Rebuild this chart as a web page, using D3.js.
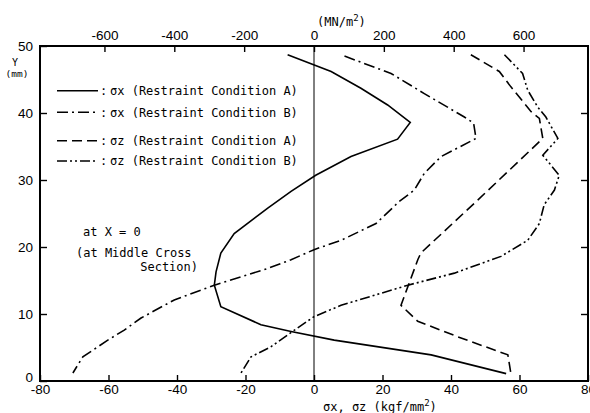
<!DOCTYPE html>
<html>
<head>
<meta charset="utf-8">
<script src="https://cdn.jsdelivr.net/npm/d3@7"></script>
<style>
  body { margin: 0; background: #fff; }
  .tick text { font-family: "Liberation Sans", Arial, sans-serif; font-size: 13.5px; fill: #000; }
  .mono { font-family: "DejaVu Sans Mono", monospace; font-size: 12px; fill: #000; }
</style>
</head>
<body>
<div id="chart"></div>
<script>
// [Y (mm), stress (kgf/mm2)]
const sigmaXA = [[48.7,-7.7],[46.2,5.0],[43.7,13.7],[41.2,21.5],[38.6,28.1],[36.1,24.4],[33.5,10.8],[30.7,0.5],
  [28.3,-6.7],[25.8,-13.5],[22.0,-23.3],[19.1,-27.2],[16.3,-28.6],[14.3,-29.1],[11.1,-27.2],[8.4,-15.5],
  [7.4,-6.7],[6.1,5.9],[3.9,34.2],[1.1,56.1]]
const sigmaXB = [[48.5,8.9],[45.9,22.5],[42.9,32.2],[39.4,43.9],[38.5,46.6],[36.2,47.3],[33.5,37.1],[31.0,32.2],
  [28.5,29.3],[26.8,24.9],[23.5,18.1],[21.0,7.9],[19.6,0],[18.1,-6.7],[16.8,-13.5],[14.3,-29.1],[12.1,-40.8],
  [9.4,-50.5],[7.6,-55.4],[6.1,-60.2],[3.6,-67.5],[1.2,-70.4]]
const sigmaZA = [[48.7,45.8],[46.2,54.1],[43.9,57.5],[40.2,63.4],[39.2,65.8],[36.2,66.8],[27.0,47.8],[19.1,31.2],
  [18.1,30.3],[11.3,25.4],[8.9,30.3],[6.6,42.0],[3.9,56.6],[1.1,57.5]]
const sigmaZB = [[48.7,55.6],[45.9,60.9],[43.4,62.4],[40.9,65.3],[39.4,67.7],[36.2,71.2],[33.7,66.8],[30.7,71.6],
  [28.5,70.2],[26.3,67.2],[23.5,65.8],[21.0,62.4],[18.6,54.6],[16.1,41.0],[14.3,27.4],[11.3,7.9],[9.6,0],
  [7.6,-5.7],[5.1,-12.6],[3.6,-18.4],[1.2,-21.3]]

const bottomTicks = [-80, -60, -40, -20, 0, 20, 40, 60, 80]
const topTicks = [-600, -400, -200, 0, 200, 400, 600]
const yTicks = [0, 10, 20, 30, 40, 50]
const legendLabels = ["σx (Restraint Condition A)", "σx (Restraint Condition B)",
  "σz (Restraint Condition A)", "σz (Restraint Condition B)"]
const KGF_TO_MN = 9.80665

var width = 590, height = 413
const margin = {top: 46, right: 2, bottom: 32, left: 40}

var svg = d3.select("#chart").append("svg")
    .attr("width", width)
    .attr("height", height)
    .style("display", "block")

var xScale = d3.scaleLinear().domain([-80, 80]).range([margin.left, width - margin.right])
var xTop = d3.scaleLinear().domain([-80 * KGF_TO_MN, 80 * KGF_TO_MN]).range([margin.left, width - margin.right])
var yScale = d3.scaleLinear().domain([0, 50]).range([height - margin.bottom, margin.top])

var x0 = xScale(-80), x1 = xScale(80), y0 = yScale(0), y1 = yScale(50)

// axes (ticks pointing in)
svg.append("g")
    .attr("transform", "translate(0," + y0 + ")")
    .call(d3.axisBottom(xScale).tickValues(bottomTicks).tickSize(-6).tickPadding(3).tickFormat(d3.format("d")))
svg.append("g")
    .attr("transform", "translate(0," + y1 + ")")
    .call(d3.axisTop(xTop).tickValues(topTicks).tickSize(-6).tickPadding(6).tickFormat(d3.format("d")))
var leftAxis = svg.append("g")
    .attr("transform", "translate(" + x0 + ",0)")
    .call(d3.axisLeft(yScale).tickValues(yTicks).tickSize(-7).tickPadding(7))
svg.append("g")
    .attr("transform", "translate(" + x1 + ",0)")
    .call(d3.axisRight(yScale).tickValues([10, 20, 30, 40]).tickSize(-7).tickFormat(""))

svg.selectAll(".domain").remove()
svg.selectAll(".tick line").attr("stroke", "#000").attr("stroke-width", 1.4)
svg.selectAll(".tick text").text(function() { return d3.select(this).text().replace("−", "-") })
// the "0" sits a little above the corner in the original
leftAxis.selectAll(".tick text").filter(function(d) { return d === 0 }).attr("dy", "0.05em")

// frame and zero line
svg.append("rect")
    .attr("x", x0).attr("y", y1)
    .attr("width", x1 - x0).attr("height", y0 - y1)
    .attr("fill", "none").attr("stroke", "#000").attr("stroke-width", 2)
svg.append("line")
    .attr("x1", xScale(0)).attr("x2", xScale(0))
    .attr("y1", y1).attr("y2", y0)
    .attr("stroke", "#000").attr("stroke-width", 1)

// curves
const series = [
    {data: sigmaXA, dash: null},
    {data: sigmaXB, dash: "11,4,2,4"},
    {data: sigmaZA, dash: "10,5"},
    {data: sigmaZB, dash: "10,3,2,3,2,3"}
]
var line = d3.line()
    .x(function(d) { return xScale(d[1]) })
    .y(function(d) { return yScale(d[0]) })

svg.selectAll("path.curve")
    .data(series)
    .enter()
    .append("path")
    .attr("class", "curve")
    .attr("d", function(s) { return line(s.data) })
    .attr("fill", "none")
    .attr("stroke", "#000")
    .attr("stroke-width", 1.6)
    .attr("stroke-dasharray", function(s) { return s.dash })

// legend
const legendY = [90.7, 112.3, 140.7, 161]
series.forEach(function(s, i) {
    svg.append("line")
        .attr("x1", 57).attr("x2", 98)
        .attr("y1", legendY[i]).attr("y2", legendY[i])
        .attr("stroke", "#000").attr("stroke-width", 1.6)
        .attr("stroke-dasharray", s.dash)
    svg.append("text").attr("class", "mono")
        .attr("x", 100).attr("y", legendY[i]).attr("dy", "0.35em")
        .text(":")
    svg.append("text").attr("class", "mono")
        .attr("x", 110).attr("y", legendY[i]).attr("dy", "0.35em")
        .text(legendLabels[i])
})

// annotations
svg.append("text").attr("class", "mono").attr("x", 83).attr("y", 236).text("at X = 0")
svg.append("text").attr("class", "mono").attr("x", 76).attr("y", 257).text("(at Middle Cross")
svg.append("text").attr("class", "mono").attr("x", 198).attr("y", 271)
    .style("text-anchor", "end").text("Section)")

// axis titles
svg.append("text").attr("class", "mono").attr("x", 15).attr("y", 66)
    .style("text-anchor", "middle").style("font-size", "10px").text("Y")
svg.append("text").attr("class", "mono").attr("x", 17).attr("y", 77)
    .style("text-anchor", "middle").style("font-size", "9.5px").text("(mm)")
svg.append("text").attr("class", "mono").attr("x", 317).attr("y", 26)
    .html("(MN/m<tspan dy='-5' font-size='9px'>2</tspan><tspan dy='5'>)</tspan>")
svg.append("text").attr("class", "mono").attr("x", 323).attr("y", 411)
    .html("σx, σz (kgf/mm<tspan dy='-5' font-size='9px'>2</tspan><tspan dy='5'>)</tspan>")
</script>
</body>
</html>
